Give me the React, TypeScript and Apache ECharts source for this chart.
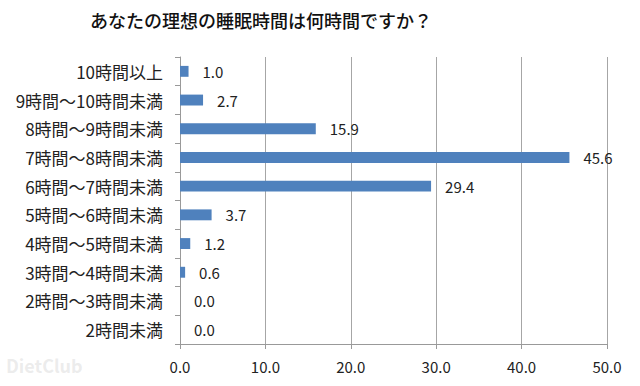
import React, { useEffect, useRef } from "react";
import * as echarts from "echarts";

const categories = [
  "2時間未満",
  "2時間～3時間未満",
  "3時間～4時間未満",
  "4時間～5時間未満",
  "5時間～6時間未満",
  "6時間～7時間未満",
  "7時間～8時間未満",
  "8時間～9時間未満",
  "9時間～10時間未満",
  "10時間以上",
];
const values = [0.0, 0.0, 0.6, 1.2, 3.7, 29.4, 45.6, 15.9, 2.7, 1.0];
const titleText = "あなたの理想の睡眠時間は何時間ですか？";

export default function App() {
  const ref = useRef<HTMLDivElement>(null);
  useEffect(() => {
    document.body.style.margin = "0";
    const chart = echarts.init(ref.current!, null, { renderer: "svg" });
    const font = "'Noto Sans CJK JP', 'Noto Sans', sans-serif";
    chart.setOption({
      animation: false,
      backgroundColor: "#ffffff",
      title: {
        text: titleText,
        left: 85,
        top: 6,
        textStyle: { fontSize: 18, fontWeight: 500, color: "#111", fontFamily: font },
      },
      grid: { left: 180, right: 33, top: 57, bottom: 42 },
      xAxis: {
        type: "value",
        min: 0,
        max: 50,
        interval: 10,
        axisLine: { show: true, lineStyle: { color: "#999", width: 1 } },
        axisTick: { show: true, length: 5, lineStyle: { color: "#999" } },
        splitLine: { show: true, lineStyle: { color: "#a6a6a6", width: 1 } },
        axisLabel: {
          formatter: (v: number) => v.toFixed(1),
          fontSize: 15,
          color: "#222",
          margin: 15,
          fontFamily: font,
        },
      },
      yAxis: {
        type: "category",
        data: categories,
        axisLine: { show: true, lineStyle: { color: "#999", width: 1 } },
        axisTick: { show: true, length: 5, lineStyle: { color: "#999" } },
        splitLine: { show: false },
        axisLabel: { fontSize: 17, color: "#222", margin: 17, fontFamily: font },
      },
      series: [
        {
          type: "bar",
          data: values,
          barWidth: "38%",
          itemStyle: { color: "#4F81BD" },
          label: {
            show: true,
            position: "right",
            distance: 14,
            formatter: (p: any) => Number(p.value).toFixed(1),
            fontSize: 15,
            color: "#222",
            fontFamily: font,
          },
        },
      ],
      graphic: [
        {
          type: "text",
          left: 6,
          top: 356,
          style: {
            text: "DietClub",
            fontSize: 18,
            fill: "rgba(200,200,200,0.35)",
            fontFamily: font,
            fontWeight: "bold",
          },
        },
      ],
    });
    return () => chart.dispose();
  }, []);
  return <div ref={ref} style={{ width: 640, height: 386 }} />;
}
